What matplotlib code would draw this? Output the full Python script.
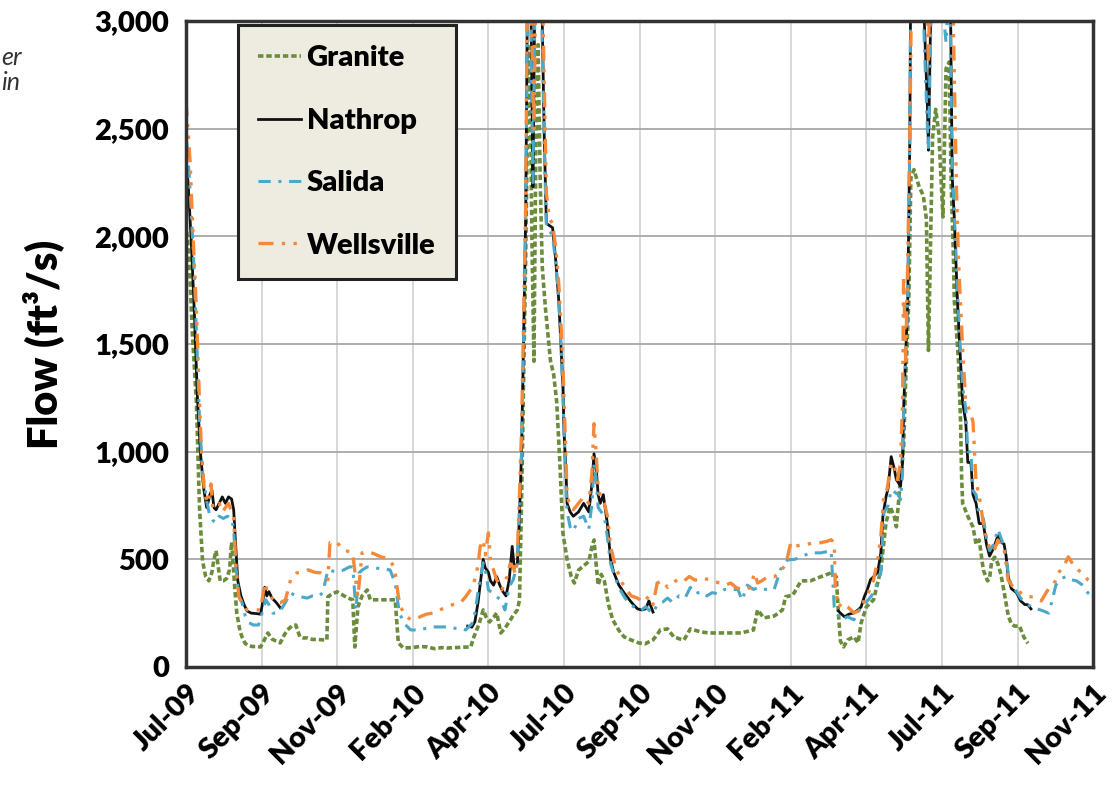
import matplotlib
matplotlib.use("Agg")
import matplotlib.pyplot as plt
import numpy as np

# days since 1 Jul 2009, daily flow (ft3/s)
granite = [
    (0, 2060), (3, 1900), (6, 1560), (10, 1230), (13, 740), (16, 490), (19, 420), (22, 400), (25, 440), (27, 500),
    (29, 540), (31, 470), (33, 400), (36, 400), (39, 410), (42, 450), (44, 580), (46, 450), (47, 370), (49, 250),
    (52, 170), (54, 140), (57, 110), (60, 100), (64, 95), (68, 95), (72, 93), (75, 120), (79, 158), (83, 130),
    (87, 120), (91, 112), (95, 150), (98, 172), (102, 190), (106, 195), (110, 140), (113, 135), (117, 135), (122, 128),
    (127, 128), (132, 126), (136, 126), (137, 326), (141, 340), (146, 349), (151, 335), (156, 321), (161, 312), (163, 93),
    (166, 279), (170, 330), (175, 358), (178, 312), (185, 312), (192, 312), (197, 312), (202, 312), (205, 112), (210, 88),
    (218, 90), (226, 95), (233, 93), (240, 85), (247, 90), (252, 88), (260, 90), (268, 92), (275, 93), (278, 140),
    (283, 200), (287, 265), (290, 230), (293, 209), (297, 230), (300, 251), (304, 158), (308, 180), (312, 209), (316, 240),
    (320, 265), (322, 310), (324, 760), (326, 1330), (328, 1900), (330, 2600), (332, 2880), (334, 2000), (336, 1420), (338, 2500),
    (340, 2890), (342, 2270), (344, 1860), (347, 1670), (350, 1520), (352, 1420), (355, 1360), (358, 1230), (361, 950), (364, 620),
    (368, 500), (372, 420), (375, 390), (379, 450), (384, 470), (389, 490), (392, 560), (394, 590), (396, 480), (398, 380),
    (401, 430), (404, 400), (408, 290), (412, 220), (418, 170), (423, 140), (430, 125), (437, 112), (443, 107), (451, 126),
    (455, 150), (458, 172), (465, 177), (471, 140), (477, 130), (481, 126), (487, 177), (492, 170), (497, 163), (505, 158),
    (515, 158), (525, 158), (536, 158), (548, 172), (552, 265), (558, 228), (568, 237), (572, 250), (576, 265), (579, 326),
    (586, 334), (594, 400), (603, 400), (613, 419), (623, 437), (628, 419), (630, 251), (632, 120), (635, 93), (639, 126),
    (645, 140), (649, 112), (652, 205), (657, 279), (664, 312), (671, 451), (676, 670), (680, 744), (684, 698), (686, 651),
    (690, 870), (693, 1023), (695, 1330), (698, 1700), (700, 2270), (703, 2310), (708, 2230), (712, 2190), (715, 2080), (717, 1470),
    (721, 2460), (724, 2590), (727, 2480), (731, 2090), (734, 2780), (737, 2810), (739, 2230), (741, 1930), (742, 1700), (746, 1420),
    (748, 1140), (749, 890), (750, 760), (755, 700), (760, 650), (763, 570), (766, 590), (770, 450), (774, 400), (776, 410),
    (778, 490), (781, 510), (784, 480), (787, 430), (790, 350), (794, 240), (797, 200), (800, 190), (805, 190), (809, 140),
    (813, 110),
]

nathrop = [
    (0, 2340), (2, 2250), (5, 1980), (8, 1650), (11, 1250), (14, 990), (17, 830), (20, 740), (23, 800), (25, 820),
    (27, 740), (29, 730), (32, 760), (35, 790), (38, 760), (41, 790), (44, 780), (46, 730), (48, 560), (50, 400),
    (53, 330), (56, 290), (59, 260), (63, 250), (68, 248), (72, 245), (74, 300), (76, 370), (78, 330), (80, 350),
    (83, 320), (87, 300), (91, 275), (150, np.nan),
    (272, 190), (276, 185), (279, 210), (282, 300), (285, 420), (287, 500), (289, 460), (292, 440), (294, 400), (297, 380),
    (300, 420), (303, 380), (306, 350), (309, 330), (312, 400), (315, 560), (317, 460), (320, 480), (322, 700), (324, 1000),
    (326, 1520), (328, 2080), (330, 3300), (332, 3500), (334, 2700), (335, 2230), (337, 3200), (339, 3600), (342, 3400), (344, 3000),
    (346, 2450), (348, 2060), (351, 2050), (354, 2040), (357, 1890), (360, 1700), (362, 1500), (364, 1300), (365, 1100), (367, 900),
    (368, 760), (371, 720), (374, 700), (379, 720), (384, 760), (389, 720), (392, 850), (394, 990), (396, 930), (398, 800),
    (400, 760), (403, 800), (407, 660), (410, 500), (413, 440), (418, 380), (423, 345), (429, 307), (432, 290), (436, 270),
    (440, 265), (444, 270), (447, 307), (451, 255), (540, np.nan),
    (630, 260), (632, 250), (636, 233), (640, 245), (645, 251), (649, 265), (652, 279), (655, 326), (658, 360), (661, 405),
    (664, 419), (668, 440), (671, 530), (673, 700), (676, 790), (678, 830), (681, 977), (684, 920), (686, 870), (688, 856),
    (690, 840), (692, 950), (693, 1200), (695, 1450), (697, 1700), (699, 2460), (700, 3300), (703, 3600), (706, 3700), (710, 3500),
    (713, 3000), (716, 2600), (717, 2400), (719, 3000), (721, 3500), (725, 3700), (729, 3600), (732, 3300), (734, 3100), (736, 3300),
    (738, 3200), (740, 2270), (742, 2080), (745, 1700), (748, 1420), (750, 1230), (753, 1140), (755, 950), (758, 950), (760, 800),
    (763, 760), (766, 666), (770, 666), (773, 571), (776, 515), (780, 553), (784, 609), (787, 580), (790, 571), (792, 515),
    (794, 420), (797, 364), (802, 345), (806, 307), (810, 290), (813, 289), (816, 270),
]

salida = [
    (0, 2470), (3, 2290), (7, 1930), (10, 1560), (13, 1150), (16, 900), (20, 770), (23, 700), (26, 680), (29, 670),
    (32, 700), (36, 690), (40, 700), (44, 690), (46, 640), (48, 470), (51, 330), (54, 300), (57, 240), (61, 205),
    (65, 195), (70, 195), (74, 260), (77, 312), (80, 290), (84, 250), (88, 250), (91, 260), (96, 300), (101, 344),
    (106, 330), (111, 326), (117, 320), (122, 330), (127, 326), (132, 344), (137, 451), (142, 445), (146, 442), (152, 450),
    (158, 465), (161, 465), (164, 265), (167, 437), (170, 450), (175, 465), (182, 460), (190, 455), (197, 451), (202, 390),
    (206, 251), (211, 200), (217, 172), (225, 172), (232, 180), (239, 186), (245, 186), (252, 186), (259, 180), (265, 180),
    (270, 172), (276, 200), (279, 251), (283, 380), (287, 484), (290, 430), (292, 358), (296, 344), (300, 326), (304, 312),
    (308, 265), (312, 372), (316, 405), (320, 480), (322, 750), (324, 1000), (326, 1520), (328, 2080), (330, 3200), (332, 3400),
    (334, 2600), (335, 2250), (337, 3100), (339, 3500), (342, 3300), (344, 2900), (346, 2400), (348, 2050), (351, 2030), (354, 2000),
    (357, 1880), (360, 1700), (362, 1500), (364, 1250), (366, 950), (368, 720), (371, 650), (374, 630), (379, 690), (384, 700),
    (389, 640), (392, 760), (394, 940), (396, 880), (398, 740), (401, 720), (404, 700), (407, 600), (410, 480), (414, 420),
    (419, 360), (424, 320), (429, 290), (434, 275), (439, 262), (444, 280), (448, 260), (451, 250), (455, 290), (460, 300),
    (465, 320), (470, 300), (476, 330), (482, 320), (487, 370), (492, 340), (497, 350), (503, 330), (508, 345), (514, 340),
    (520, 360), (527, 360), (533, 360), (537, 310), (542, 380), (548, 360), (553, 370), (560, 360), (568, 360), (574, 451),
    (581, 498), (588, 500), (594, 512), (603, 530), (613, 530), (623, 540), (626, 279), (632, 219), (639, 233), (645, 219),
    (652, 279), (659, 312), (664, 344), (668, 400), (671, 437), (674, 716), (678, 750), (681, 823), (685, 810), (688, 800),
    (690, 777), (692, 900), (693, 1200), (695, 1450), (697, 1700), (699, 2450), (700, 3300), (703, 3500), (706, 3600), (710, 3400),
    (713, 2900), (716, 2500), (717, 2400), (719, 2900), (721, 3400), (725, 3600), (729, 3500), (732, 3000), (734, 2900), (736, 3100),
    (738, 3000), (740, 2300), (742, 2100), (745, 1750), (748, 1450), (750, 1300), (753, 1200), (755, 1000), (758, 1000), (760, 820),
    (763, 800), (766, 700), (770, 690), (773, 600), (776, 540), (780, 570), (784, 640), (787, 600), (790, 560), (794, 440),
    (797, 380), (802, 350), (806, 320), (810, 300), (816, 280), (822, 270), (828, 260), (833, 250), (836, 300), (840, 380),
    (845, 410), (850, 420), (855, 405), (860, 400), (866, 380), (871, 344), (876, 326),
]

wellsville = [
    (0, 2630), (4, 2340), (7, 1980), (10, 1660), (13, 1230), (15, 990), (18, 800), (21, 760), (24, 850), (26, 740),
    (29, 740), (32, 760), (35, 720), (38, 740), (41, 760), (44, 720), (46, 700), (48, 480), (51, 326), (55, 290),
    (59, 265), (63, 265), (68, 265), (72, 265), (76, 390), (79, 344), (83, 320), (87, 298), (91, 298), (96, 312),
    (101, 405), (107, 437), (112, 440), (118, 451), (124, 440), (130, 437), (135, 420), (137, 405), (139, 577), (143, 570),
    (146, 577), (152, 544), (158, 535), (161, 530), (164, 400), (166, 326), (170, 530), (175, 537), (182, 525), (188, 512),
    (193, 505), (197, 498), (200, 470), (202, 437), (205, 330), (207, 279), (212, 240), (217, 219), (222, 225), (226, 233),
    (232, 245), (239, 251), (245, 265), (252, 279), (258, 290), (265, 298), (270, 326), (275, 360), (278, 390), (282, 470),
    (284, 558), (287, 590), (289, 520), (292, 623), (294, 500), (296, 465), (300, 405), (303, 380), (305, 358), (308, 400),
    (310, 419), (313, 480), (316, 465), (318, 430), (320, 530), (322, 800), (324, 1100), (326, 1600), (328, 2150), (330, 3400),
    (332, 3600), (334, 2900), (336, 2500), (338, 3300), (340, 3700), (342, 3600), (344, 3200), (346, 2700), (348, 2200), (351, 2080),
    (354, 2060), (357, 1950), (360, 1780), (362, 1600), (364, 1400), (366, 1100), (368, 800), (371, 740), (374, 730), (379, 760),
    (384, 790), (389, 760), (392, 900), (394, 1130), (396, 1000), (398, 830), (401, 780), (404, 760), (407, 700), (410, 560),
    (414, 480), (420, 400), (425, 360), (430, 330), (436, 320), (442, 300), (447, 330), (451, 290), (455, 390), (460, 400),
    (465, 370), (470, 390), (476, 410), (481, 400), (486, 420), (491, 405), (496, 400), (501, 410), (506, 405), (511, 395),
    (516, 390), (521, 380), (526, 390), (531, 370), (536, 360), (541, 358), (545, 370), (549, 437), (552, 390), (556, 400),
    (562, 420), (568, 419), (574, 440), (578, 470), (581, 512), (584, 577), (588, 560), (594, 567), (600, 570), (606, 577),
    (613, 577), (620, 585), (623, 591), (626, 577), (627, 372), (630, 279), (634, 298), (639, 279), (645, 251), (652, 265),
    (655, 312), (659, 344), (664, 405), (668, 498), (671, 605), (674, 809), (677, 823), (681, 949), (684, 934), (687, 870),
    (690, 949), (692, 1230), (693, 1820), (695, 1420), (697, 1890), (699, 2460), (701, 3300), (704, 3700), (708, 3800), (712, 3600),
    (715, 3200), (717, 2800), (719, 3400), (722, 3700), (726, 3800), (730, 3700), (734, 3400), (738, 3300), (741, 3000), (744, 2230),
    (746, 1890), (750, 1480), (753, 1230), (756, 1200), (760, 1140), (763, 855), (766, 798), (770, 666), (773, 600), (776, 553),
    (780, 534), (784, 590), (787, 560), (790, 553), (794, 402), (800, 364), (806, 345), (813, 326), (819, 326), (826, 307),
    (830, 340), (833, 364), (838, 383), (843, 440), (848, 470), (852, 512), (858, 465), (865, 437), (871, 405), (876, 390),
]

tick_days = [0, 73, 146, 219, 292, 365, 438, 511, 584, 657, 730, 803, 876]
tick_labels = ['Jul-09', 'Sep-09', 'Nov-09', 'Feb-10', 'Apr-10', 'Jul-10', 'Sep-10',
               'Nov-10', 'Feb-11', 'Apr-11', 'Jul-11', 'Sep-11', 'Nov-11']
y_ticks = [0, 500, 1000, 1500, 2000, 2500, 3000]

plt.rcParams['font.family'] = ['Lato', 'DejaVu Sans']

fig = plt.figure(figsize=(11.12, 7.87), dpi=100)
ax = fig.add_axes([0.1673, 0.1525, 0.8157, 0.8208])

series = [
    ('Granite', granite, dict(color='#6b8c3a', lw=2.6, dashes=(1.5, 0.8))),
    ('Nathrop', nathrop, dict(color='#111111', lw=2.0, ls='-')),
    ('Salida', salida, dict(color='#4aa8c8', lw=2.2, dashes=(4, 2.5, 1, 2.5))),
    ('Wellsville', wellsville, dict(color='#f5893a', lw=2.4, dashes=(4.5, 2.5, 1, 2.5, 1, 2.5))),
]
for name, data, style in series:
    d, q = zip(*data)
    ax.plot(d, q, label=name, **style)

ax.set_xlim(0, 876)
ax.set_ylim(0, 3000)
ax.set_xticks(tick_days)
ax.set_xticklabels(tick_labels, rotation=45, ha='right', rotation_mode='anchor',
                   fontsize=21, fontweight='heavy')
ax.set_yticks(y_ticks)
ax.set_yticklabels([f'{v:,}' for v in y_ticks], fontsize=21, fontweight='heavy')
ax.tick_params(axis='both', length=0)
ax.tick_params(axis='y', pad=12)
ax.tick_params(axis='x', pad=9)

ax.xaxis.grid(True, color='#d4d4d4', lw=1.3)
ax.yaxis.grid(True, color='#a8a8a8', lw=1.3)
ax.set_axisbelow(True)
for s in ax.spines.values():
    s.set_color('#333333')
    s.set_linewidth(2.5)

ax.set_ylabel('Flow (ft³/s)', fontsize=30, fontweight='heavy', labelpad=22)

leg = ax.legend(loc='upper left', bbox_to_anchor=(0.0573, 0.994), borderaxespad=0,
                prop={'weight': 'heavy', 'size': 21}, handlelength=1.45, handletextpad=0.2,
                labelspacing=1.25, borderpad=0.7, fancybox=False, framealpha=1)
leg.get_frame().set_facecolor('#eeece1')
leg.get_frame().set_edgecolor('#222222')
leg.get_frame().set_linewidth(2.2)

# fragments of the page caption at the left edge
fig.text(0.001, 1 - 65 / 787, 'er', fontsize=18, style='italic', ha='left', va='baseline', color='#333333')
fig.text(0.001, 1 - 90 / 787, 'in', fontsize=18, style='italic', ha='left', va='baseline', color='#333333')

fig.savefig('out.png', dpi=100)
